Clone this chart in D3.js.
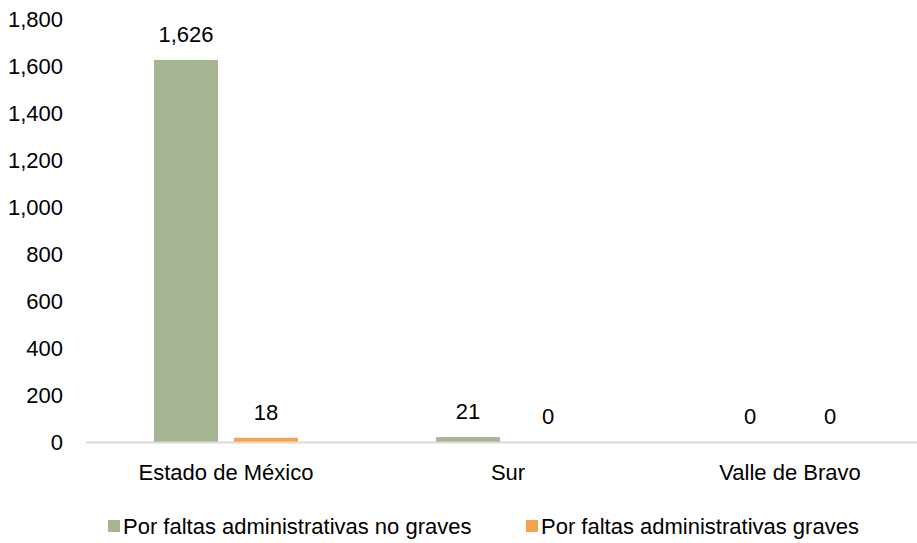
<!DOCTYPE html>
<head>
<meta charset="utf-8">
<script src="https://d3js.org/d3.v7.min.js"></script>
<style>
  body { margin: 0; background: #fff; }
  text { font-family: "Liberation Sans", Arial, sans-serif; fill: #000; }
</style>
</head>
<body>
<div id="vis"></div>
<script>
const categories = ['Estado de México', 'Sur', 'Valle de Bravo']
const seriesNames = ['Por faltas administrativas no graves', 'Por faltas administrativas graves']
const noGraves = [1626, 21, 0]
const graves = [18, 0, 0]
const yTicks = [0, 200, 400, 600, 800, 1000, 1200, 1400, 1600, 1800]
const colors = ['#a6b692', '#f4a24b']

const width = 917
const height = 543

const svg = d3.select('#vis').append('svg')
  .attr('width', width)
  .attr('height', height)

const x0 = d3.scaleBand().domain(categories).range([85, 931])
const x1 = d3.scaleBand().domain(seriesNames)
  .range([x0.bandwidth() / 2 - 72, x0.bandwidth() / 2 + 72])
  .paddingInner(0.2)
const y = d3.scaleLinear().domain([0, 1800]).range([442, 19])

const fmt = d3.format(',')

// y axis labels
svg.append('g').selectAll('text')
  .data(yTicks)
  .join('text')
  .attr('x', 63)
  .attr('y', d => y(d))
  .attr('dy', '0.36em')
  .attr('text-anchor', 'end')
  .style('font-size', '22px')
  .text(d => fmt(d))

const rows = categories.map((c, i) => ({ cat: c, vals: [noGraves[i], graves[i]] }))

const groups = svg.append('g').selectAll('g')
  .data(rows)
  .join('g')
  .attr('transform', d => `translate(${x0(d.cat)},0)`)

groups.selectAll('rect')
  .data(d => d.vals.map((v, j) => ({ name: seriesNames[j], v, j })))
  .join('rect')
  .attr('x', d => x1(d.name))
  .attr('width', x1.bandwidth())
  .attr('y', d => y(d.v))
  .attr('height', d => y(0) - y(d.v))
  .attr('fill', d => colors[d.j])

groups.selectAll('text')
  .data(d => d.vals.map((v, j) => ({ name: seriesNames[j], v, j })))
  .join('text')
  .attr('x', d => x1(d.name) + x1.bandwidth() / 2)
  .attr('y', d => y(d.v) - 26)
  .attr('dy', '0.36em')
  .attr('text-anchor', 'middle')
  .style('font-size', '22px')
  .text(d => fmt(d.v))

// baseline
svg.append('line')
  .attr('x1', 86).attr('x2', width)
  .attr('y1', y(0) + 0.5).attr('y2', y(0) + 0.5)
  .attr('stroke', '#d9d9d9')
  .attr('stroke-width', 2)

// category labels
svg.append('g').selectAll('text')
  .data(categories)
  .join('text')
  .attr('x', d => x0(d) + x0.bandwidth() / 2)
  .attr('y', 472)
  .attr('dy', '0.36em')
  .attr('text-anchor', 'middle')
  .style('font-size', '22px')
  .text(d => d)

// legend
const legendX = [108, 526]
const legend = svg.append('g').selectAll('g')
  .data(seriesNames)
  .join('g')
  .attr('transform', (d, i) => `translate(${legendX[i]},526)`)
legend.append('rect')
  .attr('x', 0).attr('y', -6)
  .attr('width', 12).attr('height', 12)
  .attr('fill', (d, i) => colors[i])
legend.append('text')
  .attr('x', 15)
  .attr('dy', '0.36em')
  .style('font-size', '22px')
  .text(d => d)
</script>
</body>
